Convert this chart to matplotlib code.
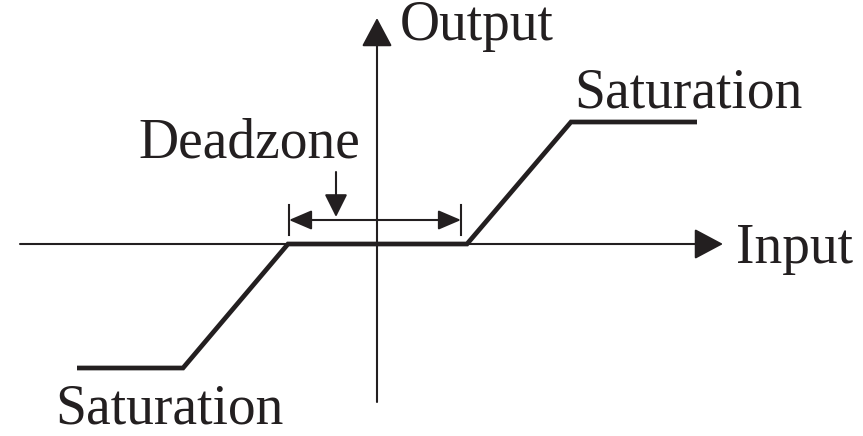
import matplotlib.pyplot as plt

# deadzone + saturation characteristic (input -> output), origin at axis crossing
input_pts = [-300, -194, -89, 90, 194, 320]
output_pts = [-124, -124, 0, 0, 122, 122]

# deadzone band edges on the input axis
dz_left = -88
dz_right = 84

labels = {
    "Output": (23, 204),
    "Input": (359, -19),
    "Saturation_hi": (197, 136),
    "Saturation_lo": (-322, -179),
    "Deadzone": (-239, 87),
}

ink = "#231f20"
plt.rcParams['font.family'] = ['Liberation Serif', 'DejaVu Serif']

fig = plt.figure(figsize=(8.63, 4.36), dpi=100)
ax = fig.add_axes([0, 0, 1, 1])
ax.set_xlim(-377, 486)
ax.set_ylim(-192, 244)
ax.axis('off')

# axes with arrow heads
big = dict(arrowstyle='-|>,head_length=0.9,head_width=0.48', lw=1.5,
           color=ink, shrinkA=0, shrinkB=0, mutation_scale=20)
ax.annotate('', xy=(346, 0), xytext=(-357, 0), arrowprops=big)
ax.annotate('', xy=(0, 226), xytext=(0, -158), arrowprops=big)

# characteristic curve
ax.plot(input_pts, output_pts, color=ink, lw=3.4, solid_joinstyle='miter',
        solid_capstyle='butt')

# deadzone bracket
for xb in (dz_left, dz_right):
    ax.plot([xb, xb], [9, 39], color=ink, lw=1.5)
small = dict(arrowstyle='<|-|>,head_length=0.7,head_width=0.3', lw=1.5,
             color=ink, shrinkA=0, shrinkB=0, mutation_scale=20)
ax.annotate('', xy=(dz_right, 24), xytext=(dz_left, 24), arrowprops=small)
down = dict(arrowstyle='-|>,head_length=0.7,head_width=0.35', lw=1.5,
            color=ink, shrinkA=0, shrinkB=0, mutation_scale=20)
ax.annotate('', xy=(-41, 27), xytext=(-41, 72), arrowprops=down)

for key, (x, y) in labels.items():
    txt = key.split('_')[0]
    ax.text(x, y, txt, fontsize=40, color=ink, ha='left', va='baseline')

fig.savefig("out.png", dpi=100)
